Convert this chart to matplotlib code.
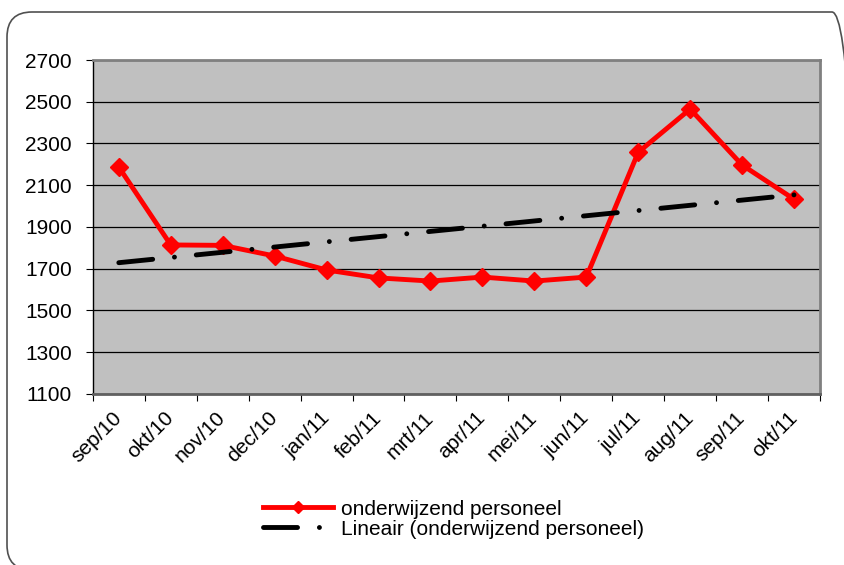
import numpy as np
import matplotlib
matplotlib.use("Agg")
import matplotlib.pyplot as plt
from matplotlib.patches import FancyBboxPatch

plt.rcParams['font.family'] = ['Liberation Sans', 'DejaVu Sans']

# Data
months = ["sep/10", "okt/10", "nov/10", "dec/10", "jan/11", "feb/11", "mrt/11",
          "apr/11", "mei/11", "jun/11", "jul/11", "aug/11", "sep/11", "okt/11"]
personeel = [2187, 1814, 1812, 1761, 1694, 1656, 1641,
             1660, 1641, 1660, 2258, 2465, 2197, 2033]
y_ticks = [1100, 1300, 1500, 1700, 1900, 2100, 2300, 2500, 2700]

x = np.arange(len(months))

# linear trend line (like Excel's "Lineair")
coef = np.polyfit(x, personeel, 1)
trend = np.polyval(coef, x)

fig = plt.figure(figsize=(8.44, 5.65), dpi=100)
ax = fig.add_axes([0.110, 0.3027, 0.8616, 0.5911])
ax.set_facecolor("#C0C0C0")

ax.plot(x, personeel, color="#FF0000", lw=3.5, marker="D", markersize=9,
        label="onderwijzend personeel", zorder=3)
ax.plot(x, trend, color="black", lw=3.5, linestyle=(0, (7.0, 4.5, 0.01, 4.5)),
        dash_capstyle="round", label="Lineair (onderwijzend personeel)", zorder=4)

ax.set_xlim(-0.5, len(months) - 0.5)
ax.set_ylim(1100, 2700)
ax.set_yticks(y_ticks)
ax.yaxis.grid(True, color="black", lw=0.9)
ax.set_axisbelow(True)

# ticks between categories, labels at the centers
ax.set_xticks(np.arange(len(months) + 1) - 0.5)
ax.set_xticklabels([])
ax.set_xticks(x, minor=True)
ax.set_xticklabels(months, minor=True, rotation=45, ha="right", va="center",
                   rotation_mode="anchor")
ax.tick_params(axis="x", which="major", length=5, direction="out", color="black")
ax.tick_params(axis="x", which="minor", length=0, pad=15, labelsize=15)
ax.tick_params(axis="y", length=5, direction="out", pad=10, labelsize=15)

ax.spines["left"].set_color("black")
ax.spines["left"].set_linewidth(1)
for side in ["top", "right"]:
    ax.spines[side].set_color("#808080")
    ax.spines[side].set_linewidth(2)
ax.spines["bottom"].set_color("#606060")
ax.spines["bottom"].set_linewidth(2)

fig.legend(loc="center", bbox_to_anchor=(0.537, 0.081), frameon=False,
           fontsize=15, handlelength=3.4, handletextpad=0.35,
           labelspacing=0.05, numpoints=1, borderpad=0, markerscale=0.7)

# rounded frame around the chart
frame = FancyBboxPatch((7, -5), 850, 558, boxstyle="round,pad=0,rounding_size=25",
                       transform=None, fill=False, edgecolor="#505050", lw=1.2,
                       clip_on=False)
fig.patches.append(frame)

plt.savefig("out.png", dpi=100)
